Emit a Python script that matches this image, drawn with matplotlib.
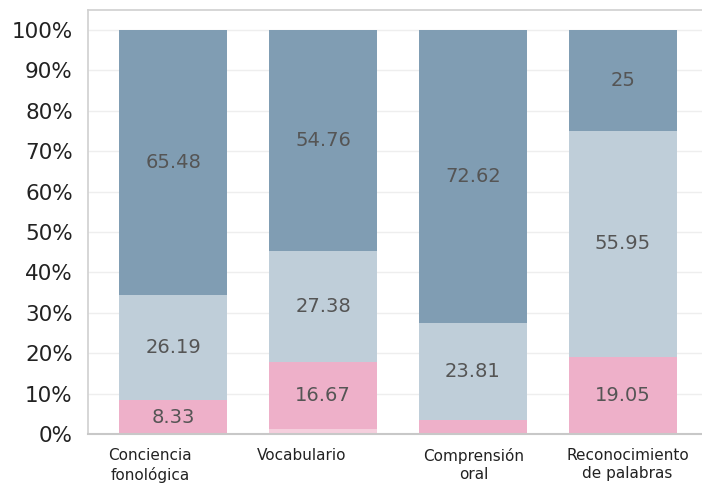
import matplotlib
matplotlib.use("Agg")
import matplotlib.pyplot as plt
import matplotlib.transforms as mtransforms
import numpy as np

categories = ["Conciencia\nfonológica", "Vocabulario", "Comprensión\noral", "Reconocimiento\nde palabras"]
s_lightest = [0.0, 1.19, 0.0, 0.0]
s_pink = [8.33, 16.67, 3.57, 19.05]
s_light = [26.19, 27.38, 23.81, 55.95]
s_dark = [65.48, 54.76, 72.62, 25.0]
yticks = [0, 10, 20, 30, 40, 50, 60, 70, 80, 90, 100]
ytick_labels = [f"{v}%" for v in yticks]

series = [s_lightest, s_pink, s_light, s_dark]
colors = ["#f5cfdd", "#eeb0c9", "#bfced9", "#809db3"]

fig = plt.figure(figsize=(7.02, 4.86), dpi=100)
ax = fig.add_axes([0.1254, 0.107, 0.8746, 0.873])

x = np.arange(len(categories))
bottom = np.zeros(len(categories))
for vals, col in zip(series, colors):
    vals = np.array(vals)
    ax.bar(x, vals, 0.72, bottom=bottom, color=col, edgecolor="none", zorder=2)
    for xi, b, v in zip(x, bottom, vals):
        if v > 5:
            ax.text(xi, b + v / 2, f"{v:g}", ha="center", va="center",
                    fontsize=14, color="#555555", zorder=3)
    bottom += vals

ax.set_ylim(0, 105)
ax.set_xlim(-0.57, 3.53)
ax.set_yticks(yticks)
ax.set_yticklabels(ytick_labels, fontsize=15.5, color="#222222")
ax.yaxis.grid(True, color="#eeeeee", linewidth=1, zorder=0)
ax.set_axisbelow(True)
ax.tick_params(axis="y", length=0, pad=11)
ax.tick_params(axis="x", length=0, pad=10)
ax.set_xticks(x)
ax.set_xticklabels(categories, fontsize=11, color="#222222", linespacing=1.3)
offsets = [-23, -22, 1, 5]
for lbl, dx in zip(ax.get_xticklabels(), offsets):
    lbl.set_transform(lbl.get_transform() + mtransforms.ScaledTranslation(dx / 100, 0, fig.dpi_scale_trans))

for side in ["left", "top"]:
    ax.spines[side].set_color("#d0d0d0")
    ax.spines[side].set_linewidth(1.2)
ax.spines["bottom"].set_color("#c8c8c8")
ax.spines["bottom"].set_linewidth(1.5)
ax.spines["right"].set_visible(False)

fig.savefig("out.png", dpi=100)
